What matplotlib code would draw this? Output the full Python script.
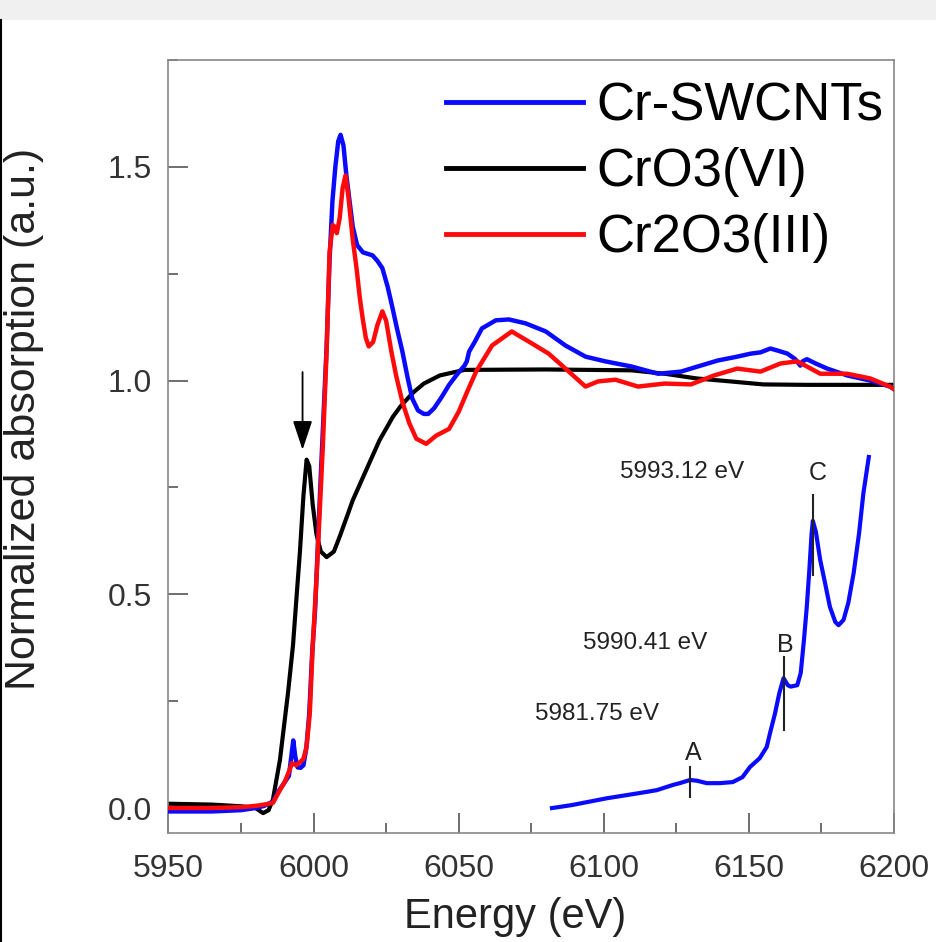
import matplotlib
matplotlib.use('Agg')
import matplotlib.pyplot as plt
from matplotlib.patches import Rectangle
from matplotlib.lines import Line2D
from matplotlib.ticker import MultipleLocator, FormatStrFormatter

plt.rcParams['font.family'] = ['Liberation Sans', 'DejaVu Sans']

# Cr-SWCNTs (blue)
e_cnt = [5950, 5965, 5975, 5980, 5983, 5986, 5988, 5990, 5991.5, 5992.5, 5993, 5993.7,
         5994.5, 5995.5, 5996.5, 5997.5, 5998.5, 5999.5, 6000.5, 6001.5, 6002.5, 6003.5,
         6004.5, 6005.5, 6006.5, 6007.5, 6008.5, 6009.3, 6010.3, 6011.3, 6012.4, 6013.5,
         6015, 6017, 6020.3, 6022, 6023.7, 6025.5, 6027, 6028.8, 6030.6, 6032.3, 6034,
         6036, 6038, 6039.5, 6041.5, 6044, 6046.7, 6049.5, 6052, 6052.8, 6053.6, 6055.5,
         6058, 6062.8, 6067.3, 6073, 6080, 6086.8, 6093.7, 6100.5, 6109.5, 6118.7, 6122,
         6126.6, 6132.4, 6139.3, 6146, 6150.6, 6154, 6157.4, 6160, 6163.3, 6166, 6167.7,
         6168.5, 6170, 6173, 6177, 6183.9, 6191.8, 6198.6, 6200]
a_cnt = [-0.008, -0.008, -0.005, 0.0, 0.005, 0.015, 0.04, 0.06, 0.075, 0.13, 0.158, 0.12,
         0.095, 0.094, 0.10, 0.14, 0.22, 0.36, 0.46, 0.62, 0.78, 0.93,
         1.08, 1.28, 1.42, 1.50, 1.56, 1.575, 1.55, 1.48, 1.42, 1.36,
         1.317, 1.30, 1.293, 1.28, 1.263, 1.22, 1.176, 1.12, 1.068, 1.01, 0.958,
         0.93, 0.922, 0.922, 0.935, 0.96, 0.99, 1.015, 1.035, 1.045, 1.068, 1.09,
         1.122, 1.141, 1.143, 1.134, 1.115, 1.082, 1.056, 1.045, 1.033, 1.016, 1.018,
         1.021, 1.033, 1.047, 1.056, 1.063, 1.066, 1.075, 1.07, 1.063, 1.05, 1.035,
         1.045, 1.05, 1.04, 1.028, 1.012, 1.0, 0.986, 0.98]

# CrO3(VI) (black)
e_cro3 = [5950, 5965, 5975, 5980, 5982.6, 5984.5, 5986, 5988.4, 5991.2, 5992.9, 5994.2,
          5995.3, 5996.5, 5997.6, 5998.5, 5999.7, 6001, 6002.5, 6004.5, 6007, 6009, 6011.4,
          6013.5, 6015.8, 6019.4, 6022.7, 6027.3, 6030, 6034.3, 6038, 6043.5, 6052, 6080,
          6109.5, 6121, 6132, 6143.7, 6155, 6170, 6200]
a_cro3 = [0.010, 0.008, 0.004, 0.0, -0.012, -0.005, 0.02, 0.112, 0.27, 0.38, 0.50,
          0.60, 0.73, 0.815, 0.80, 0.71, 0.64, 0.60, 0.587, 0.60, 0.635, 0.68,
          0.72, 0.755, 0.81, 0.86, 0.915, 0.94, 0.972, 0.993, 1.012, 1.025, 1.026,
          1.024, 1.016, 1.005, 0.998, 0.991, 0.99, 0.99]

# Cr2O3(III) (red)
e_cr2o3 = [5950, 5965, 5975, 5980, 5983, 5986, 5988.4, 5990, 5991.8, 5992.5, 5994, 5995.5,
           5996.5, 5997.6, 5998.7, 5999.7, 6001, 6002.1, 6003.2, 6004.5, 6005.5, 6006.6,
           6007.3, 6008, 6009, 6010, 6011, 6012, 6013.5, 6014.8, 6016, 6016.9, 6018, 6019,
           6020.5, 6022, 6023.7, 6025, 6026.8, 6028.5, 6030.6, 6033, 6035.4, 6038.8, 6042.2,
           6046.7, 6050, 6053, 6056, 6061.5, 6068.3, 6069.5, 6075.2, 6081, 6086.8, 6093.7,
           6098, 6104, 6111.8, 6121, 6130, 6138, 6146, 6154, 6160.9, 6166.7, 6174.6, 6183.9,
           6191.8, 6198.6, 6200]
a_cr2o3 = [0.0, 0.0, 0.002, 0.005, 0.008, 0.012, 0.042, 0.06, 0.09, 0.105, 0.10, 0.108,
           0.115, 0.144, 0.222, 0.379, 0.535, 0.692, 0.848, 1.07, 1.30, 1.364,
           1.36, 1.345, 1.38, 1.45, 1.48, 1.43, 1.33, 1.263, 1.19, 1.146, 1.10, 1.08,
           1.09, 1.13, 1.162, 1.14, 1.068, 1.01, 0.95, 0.90, 0.864, 0.852, 0.871,
           0.887, 0.927, 0.975, 1.021, 1.082, 1.115, 1.11, 1.087, 1.063, 1.028, 0.986,
           0.998, 1.002, 0.986, 0.993, 0.991, 1.012, 1.028, 1.021, 1.04, 1.045, 1.016, 1.016,
           1.005, 0.986, 0.98]

# pre-edge inset of Cr-SWCNTs (arbitrary units)
e_pre = [5968.97, 5970.8, 5974.06, 5977.12, 5978.67, 5980.18, 5980.8, 5981.75, 5982.37,
         5983.3, 5984.5, 5985.7, 5986.6, 5987.3, 5988.2, 5988.85, 5989.16, 5989.62,
         5990.02, 5990.41, 5990.8, 5991.06, 5991.68, 5992.0, 5992.3, 5992.55, 5992.8,
         5993.0, 5993.12, 5993.4, 5993.8, 5994.25, 5994.7, 5995.2, 5995.5, 5995.96,
         5996.4, 5996.9, 5997.4, 5997.8, 5998.3]
a_pre = [0.0, 0.0085, 0.028, 0.043, 0.051, 0.066, 0.071, 0.080, 0.078,
         0.071, 0.071, 0.074, 0.088, 0.117, 0.142, 0.174, 0.214, 0.27,
         0.328, 0.37, 0.35, 0.346, 0.35, 0.385, 0.48, 0.57, 0.68,
         0.78, 0.818, 0.787, 0.707, 0.641, 0.573, 0.53, 0.521, 0.536,
         0.584, 0.67, 0.783, 0.897, 1.0]
peak_names = ['A', 'B', 'C']
peak_energies = [5981.75, 5990.41, 5993.12]
peak_labels = ['5981.75 eV', '5990.41 eV', '5993.12 eV']

fig = plt.figure(figsize=(9.37, 9.42), dpi=100)
# grey band on top and black edge on the left like the screenshot
fig.add_artist(Rectangle((0, 1 - 20 / 942), 1, 20 / 942, transform=fig.transFigure,
                         facecolor='#f0f0f0', edgecolor='none'))
fig.add_artist(Line2D([1 / 937, 1 / 937], [0, 1 - 20 / 942], transform=fig.transFigure,
                      color='black', lw=1.5))

ax = fig.add_axes([0.1798, 0.1157, 0.7743, 0.8206])
ax.plot(e_cnt, a_cnt, color='#0a0aff', lw=3.2, label='Cr-SWCNTs', zorder=3)
ax.plot(e_cro3, a_cro3, color='black', lw=3.0, label='CrO3(VI)', zorder=2)
ax.plot(e_cr2o3, a_cr2o3, color='#ff0a0a', lw=3.2, label='Cr2O3(III)', zorder=4)

ax.set_xlim(5950, 6200)
ax.set_ylim(-0.0585, 1.75)
ax.xaxis.set_major_locator(MultipleLocator(50))
ax.xaxis.set_minor_locator(MultipleLocator(25))
ax.yaxis.set_major_locator(MultipleLocator(0.5))
ax.yaxis.set_minor_locator(MultipleLocator(0.25))
ax.yaxis.set_major_formatter(FormatStrFormatter('%.1f'))
ax.tick_params(which='both', direction='in', top=False, right=False, color='#555555',
               labelsize=23, labelcolor='#333333')
ax.tick_params(which='major', length=14.5, width=1.2)
ax.tick_params(which='minor', length=7.5, width=1.2)
ax.tick_params(axis='x', pad=15)
ax.tick_params(axis='y', pad=12)
for sp in ax.spines.values():
    sp.set_color('#888888')
    sp.set_linewidth(1.2)

ax.set_xlabel('Energy (eV)', fontsize=30, color='#222222')
ax.set_ylabel('Normalized absorption (a.u.)', fontsize=31, color='#222222')
ax.xaxis.set_label_coords(0.478, -0.083)
ax.yaxis.set_label_coords(-0.172, 0.536)

# arrow pointing at the CrO3 pre-edge peak
ax.annotate('', xy=(5996.2, 0.838), xytext=(5996.2, 1.02),
            arrowprops=dict(arrowstyle='-|>,head_length=1.8,head_width=0.6',
                            color='black', lw=1.3, shrinkA=0, shrinkB=0))

leg = ax.legend(loc='upper right', bbox_to_anchor=(0.985, 0.972), frameon=False,
                fontsize=38, handlelength=2.6, handletextpad=0.25, labelspacing=0.3,
                borderpad=0, borderaxespad=0)
for line in leg.get_lines():
    line.set_linewidth(3.5)

# inset with the pre-edge region
ins = fig.add_axes([0.5763, 0.1295, 0.3629, 0.3928])
ins.patch.set_alpha(0)
ins.axis('off')
ins.set_xlim(5967.86, 5999.34)
ins.set_ylim(-0.034, 1.02)
ins.plot(e_pre, a_pre, color='#0a0aff', lw=3)

mark_lo = [0.031, 0.222, 0.664]
mark_hi = [0.117, 0.430, 0.892]
for e, lo, hi in zip(peak_energies, mark_lo, mark_hi):
    ins.plot([e, e], [lo, hi], color='#222222', lw=1.5)

name_pos = [(5982.03, 0.157), (5990.6, 0.464), (5993.6, 0.954)]
text_pos = [(5973.14, 0.268), (5977.58, 0.47), (5981.0, 0.957)]
for name, (x, y) in zip(peak_names, name_pos):
    ins.text(x, y, name, fontsize=18, ha='center', va='center', color='#222222')
for lab, (x, y) in zip(peak_labels, text_pos):
    ins.text(x, y, lab, fontsize=17.5, ha='center', va='center', color='#222222')

fig.savefig('out.png', dpi=100)
